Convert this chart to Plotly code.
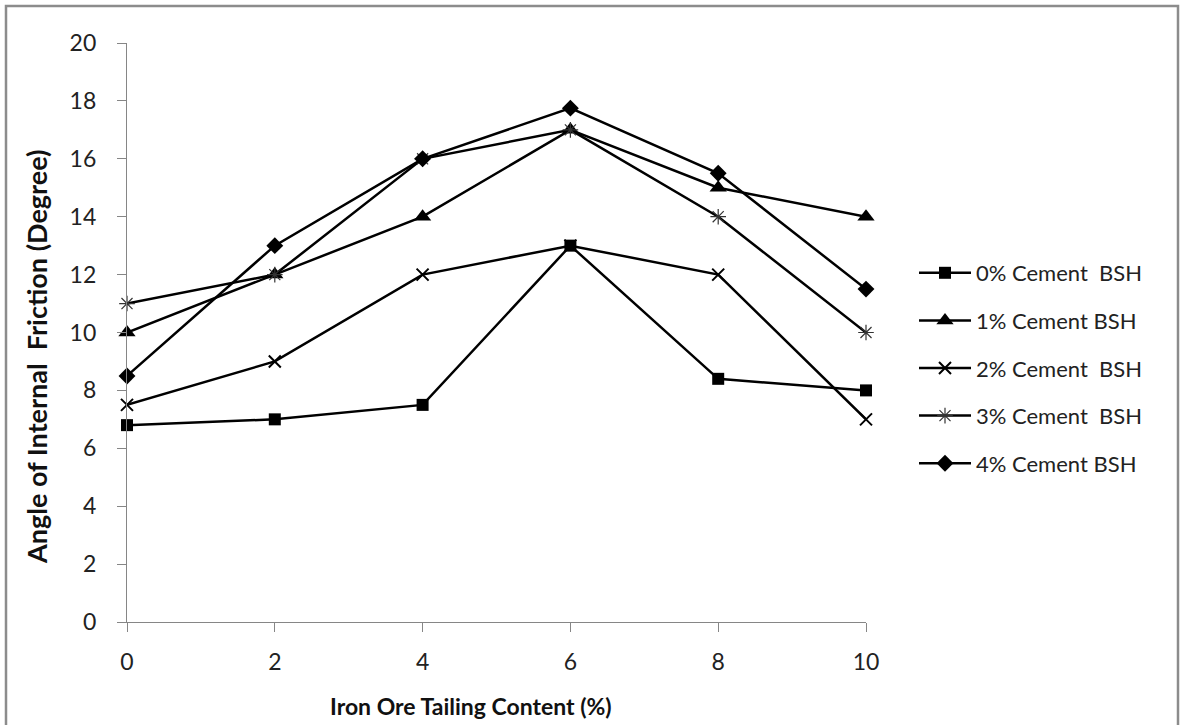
import plotly.graph_objects as go

x_vals = [0, 2, 4, 6, 8, 10]
s0 = [6.8, 7.0, 7.5, 13.0, 8.4, 8.0]
s1 = [10.0, 12.0, 14.0, 17.0, 15.0, 14.0]
s2 = [7.5, 9.0, 12.0, 13.0, 12.0, 7.0]
s3 = [11.0, 12.0, 16.0, 17.0, 14.0, 10.0]
s4 = [8.5, 13.0, 16.0, 17.75, 15.5, 11.5]
names = ["0% Cement\u00a0\u00a0BSH", "1% Cement BSH", "2% Cement\u00a0\u00a0BSH",
         "3% Cement\u00a0\u00a0BSH", "4% Cement BSH"]
series = [s0, s1, s2, s3, s4]
x_title = "Iron Ore Tailing Content (%)"
y_title = "Angle of Internal\u00a0\u00a0Friction (Degree)"

markers = [
    dict(symbol="square", size=12, color="black"),
    dict(symbol="triangle-up", size=15, color="black"),
    dict(symbol="x-thin-open", size=12, color="black", line=dict(width=2, color="black")),
    dict(symbol="asterisk-open", size=13, color="#333333", line=dict(width=1.2, color="#333333")),
    dict(symbol="diamond", size=13, color="black"),
]

FONT = "Lato, 'Open Sans', sans-serif"

fig = go.Figure()
for i, (nm, ys) in enumerate(zip(names, series)):
    fig.add_trace(go.Scatter(
        x=x_vals, y=ys, name=nm, mode="lines+markers",
        line=dict(color="black", width=2.5),
        marker=markers[i], legendgroup=f"g{i}", cliponaxis=False,
    ))

L, R, T, B = 127, 1181 - 866, 43, 725 - 622
pw, ph = 1181 - L - R, 725 - T - B

fig.update_layout(
    width=1181, height=725,
    margin=dict(l=L, r=R, t=T, b=B, pad=0),
    paper_bgcolor="white", plot_bgcolor="white",
    font=dict(family=FONT, color="black", size=18),
    showlegend=True,
    legend=dict(
        x=(914 - L) / pw, y=(622 - 252) / ph, xanchor="left", yanchor="top",
        font=dict(size=22, family=FONT, color="#222222"),
        tracegroupgap=16, bgcolor="rgba(0,0,0,0)", itemwidth=52,
    ),
    xaxis=dict(
        range=[0, 10], tickvals=[0, 2, 4, 6, 8, 10], ticks="outside", ticklen=9,
        tickcolor="#868686", showline=True, linecolor="#868686", linewidth=1.2,
        showgrid=False, zeroline=False, tickfont=dict(size=23, color="#222222"),
        ticklabelstandoff=10,
    ),
    yaxis=dict(
        range=[0, 20], tickvals=list(range(0, 21, 2)), ticks="outside", ticklen=9,
        tickcolor="#868686", showline=True, linecolor="#868686", linewidth=1.2,
        showgrid=False, zeroline=False, tickfont=dict(size=23, color="#222222"),
        ticklabelstandoff=16,
    ),
    annotations=[
        dict(text=f"<b>{x_title}</b>", xref="paper", yref="paper",
             x=(471 - L) / pw, y=(622 - 706) / ph, xanchor="center", yanchor="middle",
             showarrow=False, font=dict(size=23, color="#111111")),
        dict(text=f"<b>{y_title}</b>", xref="paper", yref="paper", textangle=-90,
             x=(36 - L) / pw, y=(622 - 357) / ph, xanchor="center", yanchor="middle",
             showarrow=False, font=dict(size=27, color="#111111")),
    ],
    shapes=[dict(
        type="rect", xref="paper", yref="paper",
        x0=(6 - L) / pw, x1=(1178 - L) / pw,
        y0=(622 - 740) / ph, y1=(622 - 6) / ph,
        line=dict(color="#8c8c8c", width=2.5), fillcolor="rgba(0,0,0,0)", layer="below",
    )],
)

fig.write_html("out.html", config={"displayModeBar": False},
               post_script="document.body.style.margin='0';document.body.style.padding='0';")
